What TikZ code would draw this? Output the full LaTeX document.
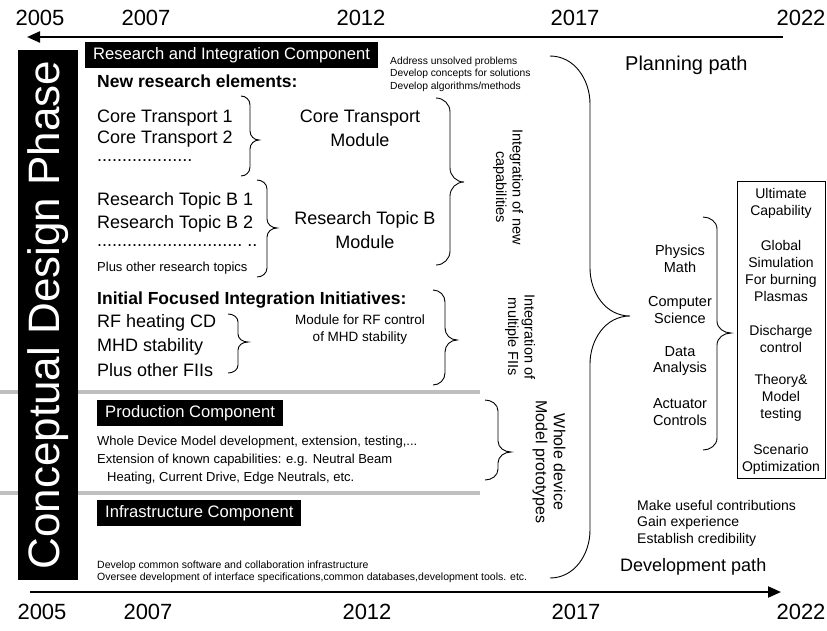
\documentclass[tikz,border=0pt]{standalone}
\usepackage{fontspec}
\setmainfont{Liberation Sans}
\usetikzlibrary{positioning, arrows.meta}

\newcommand\fsz[2]{\fontsize{#1}{#2}\selectfont}
% curly brace opening to the right: x, top, bottom, tip, reach, radius
\newcommand\curlybrace[6]{%
  \draw[brace] ({#1-#5},#2) to[out=0,in=90] (#1,{#2+#6})
    -- (#1,{#4-#6}) to[out=-90,in=180] ({#1+#5},#4)
    to[out=180,in=90] (#1,{#4+#6})
    -- (#1,{#3-#6}) to[out=-90,in=0] ({#1-#5},#3);}

\begin{document}
\begin{tikzpicture}[x=1pt, y=-1pt,
  year/.style={inner sep=0pt, font=\fsz{22}{24}},
  timeline/.style={line width=2.2pt, -{Triangle[length=13pt,width=11pt]}},
  compbox/.style={fill=black, text=white, anchor=north west, inner xsep=8pt,
    inner ysep=0pt, minimum height=26pt, font=\fsz{16.6}{18}},
  item/.style={anchor=west, inner sep=0pt, font=\fsz{18}{21}},
  heading/.style={anchor=west, inner sep=0pt, font=\fsz{17.5}{20}\bfseries},
  note/.style={anchor=west, inner sep=0pt, align=left, font=\fsz{10.3}{12.5}},
  module/.style={align=center, inner sep=0pt, font=\fsz{18}{24}},
  side/.style={rotate=-90, align=center, inner sep=0pt, font=\fsz{14.5}{16.5}},
  col/.style={align=center, inner sep=0pt, font=\fsz{14.5}{16.5}},
  brace/.style={line width=0.9pt},
  hatch/.style={line width=3.5pt, draw=gray!50},
  ]
  \fill[white] (0,0) rectangle (827,630);
  \useasboundingbox (0,0) rectangle (827,630);

  %timelines
  \coordinate (top right) at (783,37);
  \coordinate (top left) at (27,37);
  \draw[timeline] (top right) -- (top left);
  \coordinate (bottom left) at (30,592);
  \coordinate (bottom right) at (781,592);
  \draw[timeline] (bottom left) -- (bottom right);

  %years
  \foreach \yr/\xa/\xb in {2005/40/42, 2007/146/148, 2012/361/367, 2017/575/576, 2022/801/801} {
    \node[year] (top \yr) at (\xa,18) {\yr};
    \node[year] (bottom \yr) at (\xb,612) {\yr};
  }

  %separators
  \draw[hatch] (0,392) -- (480,392);
  \draw[hatch] (0,493) -- (480,493);

  %phase bar
  \node[fill=black, text=white, rotate=90, minimum width=530pt, minimum height=60pt,
    inner sep=0pt, font=\fsz{44}{44}] (phase) at (48,315) {Conceptual Design Phase};

  %research and integration
  \node[compbox] (research) at (85,42) {Research and Integration Component};
  \node[note] (aims) at (390,74) {Address unsolved problems\\Develop concepts for solutions\\Develop algorithms/methods};
  \node[heading] (newelems) at (97,81) {New research elements:};
  \foreach \nm/\yy/\txt in {ct1/118/Core Transport 1, ct2/139/Core Transport 2,
      ctdots/161/{...................}, rtb1/201/Research Topic B 1,
      rtb2/224/Research Topic B 2, rtbdots/246/{.............................~..}}
    \node[item] (\nm) at (97,\yy) {\txt};
  \node[item, font=\fsz{13}{15}] (rtbplus) at (97,268) {Plus other research topics};
  \curlybrace{250}{96}{176}{140}{9}{9}
  \curlybrace{267}{180}{277}{228}{10}{9}
  \node[module] (ctmod) at (360,128) {Core Transport\\Module};
  \node[module] (rtbmod) at (365,230) {Research Topic B\\Module};
  \curlybrace{450}{98}{265}{182}{14}{14}
  \node[side] (intnew) at (508,187) {Integration of new\\capabilities};

  %focused integration initiatives
  \node[heading] (fii) at (97,300) {Initial Focused Integration Initiatives:};
  \foreach \nm/\yy/\txt in {rf/323/RF heating CD, mhd/347/MHD stability, fiiplus/370/Plus other FIIs}
    \node[item] (\nm) at (97,\yy) {\txt};
  \curlybrace{238}{314}{373}{342}{10}{8}
  \node[module, font=\fsz{13.5}{17}] (rfmod) at (360,330) {Module for RF control\\of MHD stability};
  \curlybrace{445}{290}{385}{340}{12}{12}
  \node[side] (intfii) at (520,337) {Integration of\\multiple FIIs};

  %production
  \node[compbox] (production) at (97,400) {Production Component};
  \node[note, font=\fsz{13}{18}] (wdm) at (97,460) {Whole Device Model development, extension, testing,...\\Extension of known capabilities: e.g. Neutral Beam\\\hspace*{10pt}Heating, Current Drive, Edge Neutrals, etc.};
  \curlybrace{498}{400}{480}{452}{13}{11}
  \node[side, font=\fsz{16}{18}] (wdmproto) at (549,462) {Whole device\\Model prototypes};

  %infrastructure
  \node[compbox] (infra) at (97,500) {Infrastructure Component};
  \node[note, font=\fsz{10.5}{12.5}] (infratext) at (97,572) {Develop common software and collaboration infrastructure\\Oversee development of interface specifications,common databases,development tools. etc.};

  %planning and development paths
  \curlybrace{590}{56}{578}{316}{40}{48}
  \node[anchor=west, inner sep=0pt, font=\fsz{20}{22}] (planning) at (625,65) {Planning path};
  \node[note, font=\fsz{14}{16.5}] (gains) at (637,523) {Make useful contributions\\Gain experience\\Establish credibility};
  \node[anchor=west, inner sep=0pt, font=\fsz{18}{20}] (devpath) at (620,567) {Development path};

  %disciplines and goals
  \foreach \nm/\yy/\txt in {phys/259/Physics\\Math, comp/310/Computer\\Science,
      data/361/Data\\Analysis, act/412/Actuator\\Controls}
    \node[col] (\nm) at (680,\yy) {\txt};
  \curlybrace{717}{217}{450}{333}{14}{12}
  \node[draw, line width=0.9pt, minimum width=88pt, minimum height=297pt] (goals) at (781,329.5) {};
  \foreach \nm/\yy/\txt in {ultimate/203/Ultimate\\Capability, global/271/Global\\Simulation\\For burning\\Plasmas,
      discharge/339/Discharge\\control, theory/398/Theory\&\\Model\\testing, scenario/459/Scenario\\Optimization}
    \node[col, font=\fsz{14}{17}] (\nm) at (781,\yy) {\txt};
\end{tikzpicture}
\end{document}
